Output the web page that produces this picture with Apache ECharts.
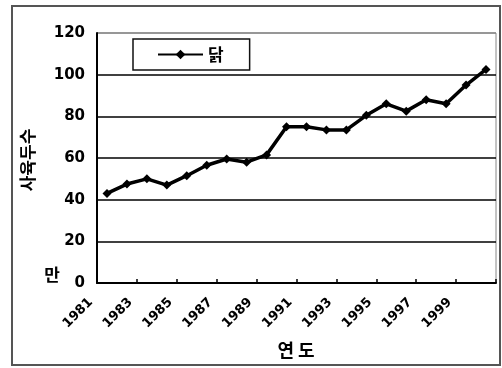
<!DOCTYPE html>
<html>
<head>
<meta charset="utf-8">
<script src="https://cdn.jsdelivr.net/npm/echarts@6/dist/echarts.min.js"></script>
<style>
  html, body { margin: 0; padding: 0; background: #fff; }
  #chart { width: 502px; height: 368px; }
</style>
</head>
<body>
<div id="chart"></div>
<script>
// 연도 (1981 ~ 2000)
const years = ['1981', '1982', '1983', '1984', '1985', '1986', '1987', '1988', '1989', '1990',
               '1991', '1992', '1993', '1994', '1995', '1996', '1997', '1998', '1999', '2000'];
// 닭 사육두수 (만 마리), 그림에서 읽은 값
const chicken = [43, 47.5, 50, 47, 51.5, 56.5, 59.5, 58, 61.5, 75,
                 75, 73.5, 73.5, 80.5, 86, 82.5, 88, 86, 95, 102.5];
const yTicks = [0, 20, 40, 60, 80, 100, 120];

const chart = echarts.init(document.getElementById('chart'));

const option = {
    animation: false,
    backgroundColor: '#fff',
    grid: {
        left: 97, top: 33, right: 6, bottom: 85,
        show: true, borderColor: '#888', borderWidth: 1
    },
    legend: {
        data: ['닭'],
        left: 133, top: 39,
        padding: [7, 26, 7, 24],
        borderColor: '#111', borderWidth: 1.5,
        itemWidth: 45, itemHeight: 12, itemGap: 4,
        textStyle: { fontFamily: 'Noto Sans CJK KR', fontWeight: 'bold', fontSize: 17, color: '#000' }
    },
    xAxis: {
        type: 'category',
        data: years,
        boundaryGap: true,
        axisLine: { lineStyle: { color: '#000', width: 2 } },
        axisTick: { show: true, inside: true, length: 4, lineStyle: { color: '#000', width: 1.5 } },
        axisLabel: {
            interval: 1, rotate: 45, margin: 1,
            formatter: v => '{y|' + v + '}',
            rich: {
                y: {
                    padding: [0, 23, 0, 0],
                    fontFamily: 'DejaVu Sans', fontWeight: 'bold', fontSize: 13, color: '#000'
                }
            }
        },
        splitLine: { show: false }
    },
    yAxis: {
        type: 'value',
        min: yTicks[0], max: yTicks[yTicks.length - 1], interval: 20,
        axisLine: { show: true, lineStyle: { color: '#000', width: 2 } },
        axisTick: { show: false },
        axisLabel: {
            margin: 12,
            fontFamily: 'DejaVu Sans', fontWeight: 'bold', fontSize: 15, color: '#000'
        },
        splitLine: {
            lineStyle: { color: ['#000', '#000', '#000', '#000', '#000', '#000', '#888'], width: 1.5 }
        }
    },
    series: [{
        name: '닭',
        type: 'line',
        data: chicken,
        symbol: 'diamond',
        symbolSize: 9,
        lineStyle: { color: '#000', width: 3.5 },
        itemStyle: { color: '#000' }
    }],
    graphic: [
        {
            type: 'rect', z: 100, silent: true,
            shape: { x: 12, y: 6, width: 488, height: 359 },
            style: { fill: null, stroke: '#555', lineWidth: 2 }
        },
        {
            type: 'text', x: 28, y: 160, rotation: Math.PI / 2,
            style: {
                text: '사육두수', align: 'center', verticalAlign: 'middle',
                fontFamily: 'Noto Sans CJK KR', fontWeight: 'bold', fontSize: 17, fill: '#000'
            }
        },
        {
            type: 'text', x: 52, y: 275,
            style: {
                text: '만', align: 'center', verticalAlign: 'middle',
                fontFamily: 'Noto Sans CJK KR', fontWeight: 'bold', fontSize: 17, fill: '#000'
            }
        },
        {
            type: 'text', x: 296, y: 350,
            style: {
                text: '연 도', align: 'center', verticalAlign: 'middle',
                fontFamily: 'Noto Sans CJK KR', fontWeight: 'bold', fontSize: 18, fill: '#000'
            }
        }
    ]
};

chart.setOption(option);
</script>
</body>
</html>
